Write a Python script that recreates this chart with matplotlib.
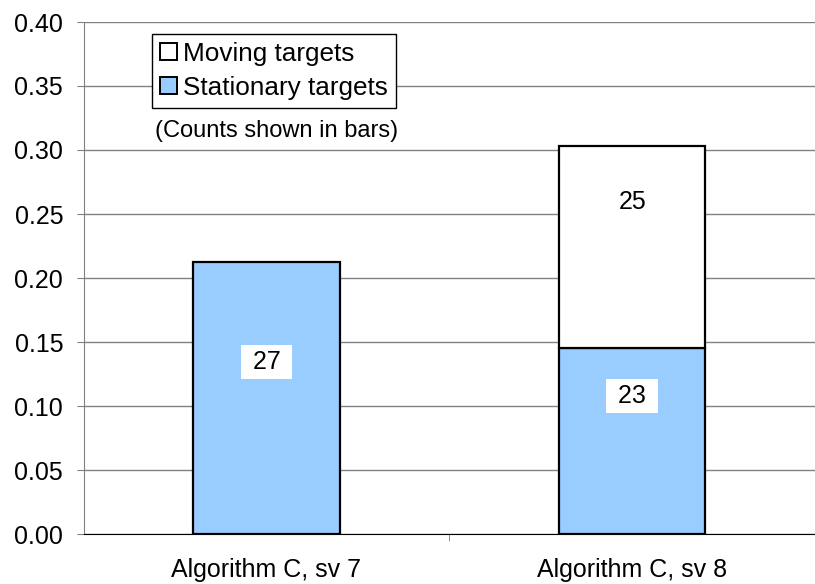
import matplotlib
matplotlib.use("Agg")
import matplotlib.pyplot as plt
from matplotlib.patches import Patch

categories = ["Algorithm C, sv 7", "Algorithm C, sv 8"]
stationary = [0.2127, 0.1451]
moving = [0.0, 0.1583]
stationary_counts = ["27", "23"]
moving_counts = ["", "25"]

plt.rcParams['font.family'] = ['Liberation Sans', 'DejaVu Sans']

fig = plt.figure(figsize=(8.15, 5.84), dpi=100)
W, H = 815, 584
left, right, bottom, top = 84, 815, 534, 22
ax = fig.add_axes([left / W, 1 - bottom / H, (right - left) / W, (bottom - top) / H])

FS = 18
x = list(range(len(categories)))
bw = 0.40
ax.bar(x, stationary, width=bw, color="#99CCFF", edgecolor="black", linewidth=1.6, zorder=3)
mv_bars = ax.bar(x, moving, bottom=stationary, width=bw, color="white", edgecolor="black", linewidth=1.6, zorder=3)
for b, m in zip(mv_bars, moving):
    if m == 0:
        b.set_visible(False)

spacing = 370.0
center0 = 268.5
ax.set_xlim(-(center0 - left) / spacing, (right - center0) / spacing)
ax.set_ylim(0, 0.40)
ax.set_yticks([i * 0.05 for i in range(9)])
ax.set_yticklabels([f"{i*0.05:.2f}" for i in range(9)], fontsize=FS)
ax.yaxis.grid(True, color="#808080", linewidth=1.0, zorder=0)
ax.set_xticks(x)
ax.set_xticklabels(categories, fontsize=FS)
ax.tick_params(axis='x', length=0, pad=17)
ax.set_xticks([0.5, 1.5], minor=True)
ax.tick_params(axis='x', which='minor', length=5, color='#808080')
ax.tick_params(axis='y', length=5, pad=10, color='#808080')
for s in ['top', 'right']:
    ax.spines[s].set_visible(False)
ax.spines['left'].set_color('#808080')
ax.spines['bottom'].set_color('black')
ax.spines['bottom'].set_zorder(4)

# count labels
label_y_st = [0.134, 0.108]
label_y_mv = [None, 0.259]
for i in x:
    ax.text(i, label_y_st[i], " " + stationary_counts[i] + " ", ha='center', va='center', fontsize=FS,
            zorder=5, bbox=dict(boxstyle='square,pad=0.2', fc='white', ec='none'))
    if moving_counts[i]:
        ax.text(i, label_y_mv[i], moving_counts[i], ha='center', va='center', fontsize=FS, zorder=5)

handles = [Patch(facecolor='white', edgecolor='black', linewidth=1.4, label='Moving targets'),
           Patch(facecolor='#99CCFF', edgecolor='black', linewidth=1.4, label='Stationary targets')]
leg = fig.legend(handles=handles, loc='upper left', bbox_to_anchor=(152 / W, 1 - 34 / H),
                 bbox_transform=fig.transFigure,
                 fontsize=18.8, frameon=True, fancybox=False, edgecolor='black', framealpha=1,
                 handlelength=0.66, handleheight=0.66, handletextpad=0.24, borderpad=0.3,
                 labelspacing=0.38, borderaxespad=0)
leg.get_frame().set_linewidth(1.0)
leg.set_zorder(6)

fig.text(155 / W, 1 - 131 / H, "(Counts shown in bars)", fontsize=17, ha='left', va='center')

fig.savefig("out.png", dpi=100)
